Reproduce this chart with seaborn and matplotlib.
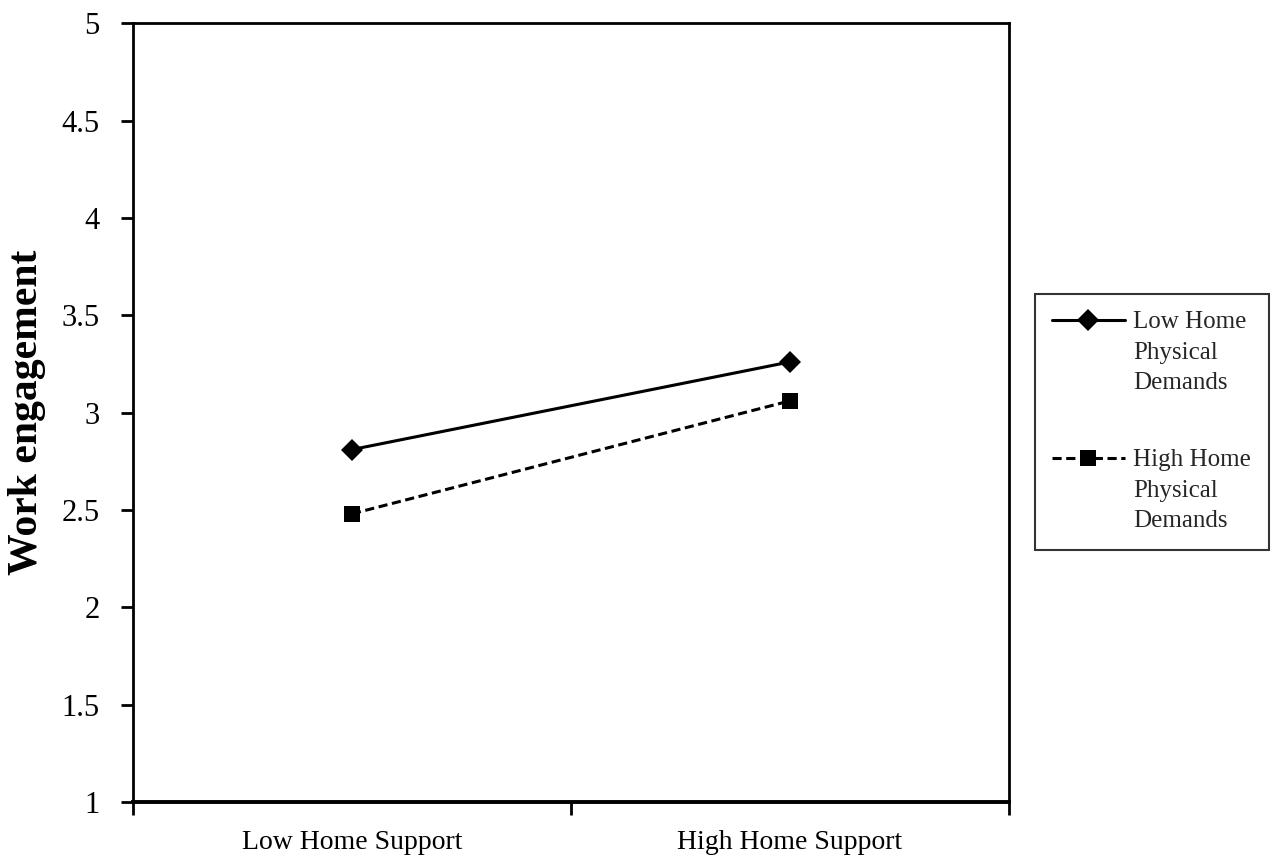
import pandas as pd
import matplotlib.pyplot as plt
import seaborn as sns

# 데이터
categories = ['Low Home Support', 'High Home Support']
series_names = ['Low Home\nPhysical\nDemands', 'High Home\nPhysical\nDemands']
low_demands = [2.81, 3.26]
high_demands = [2.48, 3.06]
y_ticks = [1, 1.5, 2, 2.5, 3, 3.5, 4, 4.5, 5]
y_tick_labels = ['1', '1.5', '2', '2.5', '3', '3.5', '4', '4.5', '5']

df = pd.DataFrame({
    'support': categories * 2,
    'engagement': low_demands + high_demands,
    'demands': [series_names[0]] * 2 + [series_names[1]] * 2,
})

sns.set_style('ticks')
plt.rcParams['font.family'] = ['Liberation Serif', 'DejaVu Serif']

fig, ax = plt.subplots(figsize=(12.72, 8.59), dpi=100)
fig.subplots_adjust(left=0.1046, right=0.793, bottom=0.0664, top=0.973)

sns.lineplot(data=df, x='support', y='engagement', hue='demands', style='demands',
             palette=['black', 'black'], markers={series_names[0]: 'D', series_names[1]: 's'},
             dashes={series_names[0]: '', series_names[1]: (3, 1.5)},
             linewidth=2.2, markeredgewidth=0, ax=ax)

# 마커 크기 조정
for line, ms in zip(ax.get_lines(), [11, 12]):
    line.set_markersize(ms)

# x축: 카테고리 경계에 눈금, 가운데에 라벨
ax.set_xlim(-0.5, 1.5)
ax.set_xticks([-0.5, 0.5, 1.5])
ax.set_xticklabels([])
ax.set_xticks([0, 1], minor=True)
ax.set_xticklabels(categories, minor=True, fontsize=20)
ax.tick_params(axis='x', which='minor', length=0, pad=20)
ax.tick_params(axis='x', which='major', length=9, width=2, direction='out', color='black')

ax.set_ylim(1, 5)
ax.set_yticks(y_ticks)
ax.set_yticklabels(y_tick_labels, fontsize=22)
ax.tick_params(axis='y', length=9, width=2, direction='out', pad=15, color='black')
ax.tick_params(labelcolor='black', which='both')

for s in ['left', 'right', 'top', 'bottom']:
    ax.spines[s].set_linewidth(2)
    ax.spines[s].set_color('black')
    ax.spines[s].set_visible(True)
ax.spines['bottom'].set_linewidth(2.8)

ax.set_xlabel('')
ax.set_ylabel('Work engagement', fontsize=30, fontweight='bold', labelpad=11, color='black')

leg = ax.legend(loc='center left', bbox_to_anchor=(1.0297, 0.488), borderaxespad=0,
                frameon=True, fancybox=False, edgecolor='black', fontsize=18,
                labelspacing=2.2, handlelength=2.9, handletextpad=0.35, borderpad=0.7)
leg.get_frame().set_linewidth(1.5)
for t in leg.get_texts():
    t.set_linespacing(1.5)
for h, ms in zip(leg.legend_handles, [11, 11]):
    h.set_markersize(ms)
# 범례 핸들을 첫 줄에 맞춤
for col in leg._legend_handle_box.get_children():
    for item in col.get_children():
        item.align = 'top'

plt.savefig('out.png', dpi=100)
